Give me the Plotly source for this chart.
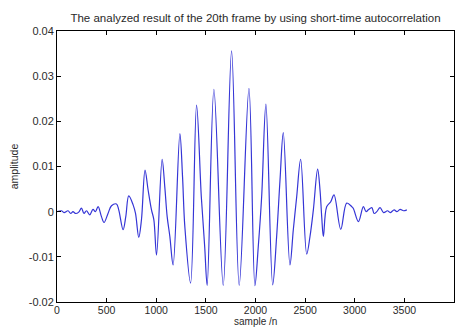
import plotly.graph_objects as go

# sample index (lag) and amplitude
sample_n = [4, 44, 71, 111, 138, 161, 186, 219, 246, 272, 297, 330, 363, 387, 414, 448, 474,
            514, 549, 599, 622, 666, 693, 723, 767, 791, 824, 851, 887, 918, 952, 976, 1003,
            1059, 1086, 1110, 1137, 1170, 1238, 1265, 1288, 1346, 1406, 1454, 1488, 1513,
            1581, 1675, 1759, 1836, 1934, 1994, 2028, 2062, 2105, 2173, 2213, 2247, 2280,
            2347, 2381, 2415, 2455, 2516, 2549, 2583, 2626, 2650, 2667, 2684, 2717, 2758,
            2791, 2859, 2919, 2970, 2986, 3037, 3087, 3114, 3137, 3172, 3195, 3222, 3255,
            3291, 3330, 3357, 3397, 3424, 3457, 3491, 3525]
amplitude = [0.0, 0.0002, -0.0002, 0.0002, -0.0004, 0.0, -0.0004, -0.0001, 0.0008, -0.0004,
             0.0002, -0.0007, 0.0005, 0.0, 0.0011, -0.0011, -0.0024, -0.0004, 0.0013, 0.0017,
             0.0004, -0.0040, -0.0011, 0.0035, 0.0015, -0.0004, -0.0057, -0.0018, 0.0092,
             0.0048, 0.0004, -0.0018, -0.0096, 0.0116, 0.0055, -0.0011, -0.0055, -0.0118,
             0.0173, 0.0077, -0.0033, -0.0158, 0.0236, 0.0033, -0.0077, -0.0163, 0.0271,
             -0.0163, 0.0356, -0.0163, 0.0273, -0.0164, -0.0077, 0.0033, 0.0238, -0.0162,
             -0.0055, 0.0070, 0.0175, -0.0118, -0.0040, 0.0033, 0.0116, -0.0094, -0.0055,
             0.0004, 0.0094, 0.0048, -0.0011, -0.0055, 0.0011, 0.0022, 0.0037, -0.0039,
             0.0019, 0.0011, 0.0007, -0.0022, 0.0011, 0.0, 0.0004, 0.0009, -0.0004, 0.0,
             0.0009, -0.0002, 0.0002, -0.0002, 0.0004, 0.0, 0.0005, 0.0002, 0.0004]

x_tickvals = [0, 500, 1000, 1500, 2000, 2500, 3000, 3500, 4000]
x_ticktext = ["0", "500", "1000", "1500", "2000", "2500", "3000", "3500", "4000"]
y_tickvals = [-0.02, -0.01, 0, 0.01, 0.02, 0.03, 0.04]
y_ticktext = ["-0.02", "-0.01", "0", "0.01", "0.02", "0.03", "0.04"]

title_text = "The analyzed result of the 20th frame by using short-time autocorrelation"
x_title = "sample /n"
y_title = "amplitude"

FONT = "Liberation Sans, Arial, sans-serif"
TXT = "#2a2a2a"

fig = go.Figure()
fig.add_trace(go.Scatter(
    x=sample_n, y=amplitude, mode="lines",
    line=dict(color="#3535d6", width=1.2, shape="spline", smoothing=1.0),
    hoverinfo="skip", showlegend=False,
))

axis_common = dict(
    showline=True, linecolor="#000", linewidth=1, mirror="ticks",
    ticks="inside", ticklen=4, tickcolor="#000", tickwidth=1,
    showgrid=False, zeroline=False, automargin=False,
)

fig.update_layout(
    width=465, height=329,
    margin=dict(l=57, r=11, t=31, b=27),
    paper_bgcolor="white", plot_bgcolor="white",
    font=dict(family=FONT, size=11, color=TXT),
    title=dict(text=title_text, x=0.5, xref="paper", y=1 - 18 / 329, yref="container",
               xanchor="center", yanchor="middle",
               font=dict(family=FONT, size=11.5, color=TXT)),
    xaxis=dict(range=[0, 4000], tickvals=x_tickvals, ticktext=x_ticktext,
               ticklabelstandoff=-2, tickfont=dict(family=FONT, size=10.5, color=TXT),
               **axis_common),
    yaxis=dict(range=[-0.02, 0.04], tickvals=y_tickvals, ticktext=y_ticktext,
               tickfont=dict(family=FONT, size=11, color=TXT),
               title=dict(text=y_title, standoff=8, font=dict(family=FONT, size=10.5, color=TXT)),
               **axis_common),
    annotations=[dict(text=x_title, xref="paper", yref="paper", x=0.5, y=-(27.0 / 271),
                      xanchor="center", yanchor="bottom", showarrow=False,
                      font=dict(family=FONT, size=10, color=TXT))],
)

fig.write_html("out.html")
